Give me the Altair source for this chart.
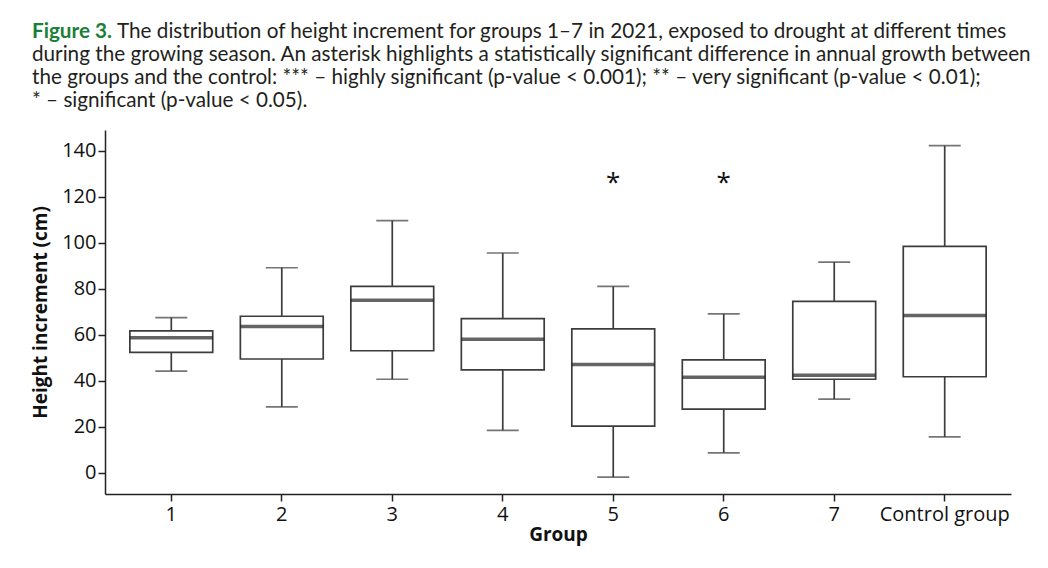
import altair as alt
import pandas as pd

# ---- data ----
groups = ["1", "2", "3", "4", "5", "6", "7", "Control group"]
whisker_low = [44.1, 28.6, 40.6, 18.4, -2.0, 8.6, 32.0, 15.5]
q1 = [52.3, 49.4, 53.0, 44.7, 20.2, 27.6, 40.6, 41.7]
median = [58.7, 63.5, 75.0, 58.0, 47.0, 41.5, 42.3, 68.3]
q3 = [61.6, 68.0, 81.0, 67.0, 62.5, 49.0, 74.5, 98.4]
whisker_high = [67.4, 89.1, 109.6, 95.5, 81.0, 69.0, 91.5, 142.2]

sig_groups = ["5", "6"]
sig_labels = ["*", "*"]
sig_values = [126.0, 126.0]

y_ticks = [0, 20, 40, 60, 80, 100, 120, 140]

header_lines = [
    "The distribution of height increment for groups 1\u20137 in 2021, exposed to drought at different times",
    "during the growing season. An asterisk highlights a statistically significant difference in annual growth between",
    "the groups and the control: *** \u2013 highly significant (p-value < 0.001); ** \u2013 very significant (p-value < 0.01);",
    "* \u2013 significant (p-value < 0.05).",
]
header_lead = "Figure 3."

df = pd.DataFrame({
    "group": groups,
    "low": whisker_low,
    "q1": q1,
    "median": median,
    "q3": q3,
    "high": whisker_high,
})
sig = pd.DataFrame({"group": sig_groups, "label": sig_labels, "value": sig_values})

W, H = 906, 364
LINE = "#3c3c3c"
FONT = "Open Sans"
HFONT = "Lato"
HSIZE = 20.7

x = alt.X("group:N", sort=groups, title="Group",
          scale=alt.Scale(paddingInner=0.25, paddingOuter=0.225),
          axis=alt.Axis(labelAngle=0, labelPadding=3, titlePadding=1))
yscale = alt.Scale(domain=[-9.3, 149], nice=False, zero=False)
yaxis = alt.Axis(values=y_ticks, titlePadding=11)

base = alt.Chart(df)

whisk = base.mark_rule(color=LINE, strokeWidth=1.7).encode(
    x=x,
    y=alt.Y("low:Q", scale=yscale, axis=yaxis, title="Height increment (cm)"),
    y2="high:Q",
)
box = base.mark_bar(fill="white", stroke=LINE, strokeWidth=1.7).encode(
    x=x, y="q1:Q", y2="q3:Q"
)
med = base.mark_tick(color="#222222", size=83, thickness=3.5).encode(x=x, y="median:Q")
cap_lo = base.mark_tick(color=LINE, size=32, thickness=1.7).encode(x=x, y="low:Q")
cap_hi = base.mark_tick(color=LINE, size=32, thickness=1.7).encode(x=x, y="high:Q")

stars = alt.Chart(sig).mark_text(fontSize=26, font=FONT, color="#111", baseline="middle").encode(
    x=alt.X("group:N", sort=groups),
    y=alt.Y("value:Q"),
    text="label:N",
)

one = pd.DataFrame({"k": [0]})
hdr = []
hdr.append(alt.Chart(one).mark_text(
    text=header_lead, font=HFONT, fontSize=HSIZE, fontWeight="bold", color="#1a7f37",
    align="left", baseline="alphabetic").encode(x=alt.value(-73), y=alt.value(-92)))
hx = [12, -73, -73, -73]
hy = [-92, -69, -46, -23]
for t, xx, yy in zip(header_lines, hx, hy):
    hdr.append(alt.Chart(one).mark_text(
        text=t, font=HFONT, fontSize=HSIZE, color="#231f20",
        align="left", baseline="alphabetic").encode(x=alt.value(xx), y=alt.value(yy)))

chart = alt.layer(whisk, box, med, cap_lo, cap_hi, stars, *hdr).properties(
    width=W, height=H,
    autosize=alt.AutoSizeParams(type="none"),
    padding={"left": 97, "top": 122, "right": 28, "bottom": 60},
).configure_view(stroke="transparent").configure_axis(
    grid=False,
    domainColor="#222", domainWidth=1.5,
    tickColor="#222", tickSize=7, tickWidth=1.5,
    labelFont=FONT, labelFontSize=20, labelColor="#111",
    titleFont=FONT, titleFontSize=19, titleFontWeight="bold", titleColor="#111",
)

chart.save("out.html", embed_options={"renderer": "svg", "actions": False})
